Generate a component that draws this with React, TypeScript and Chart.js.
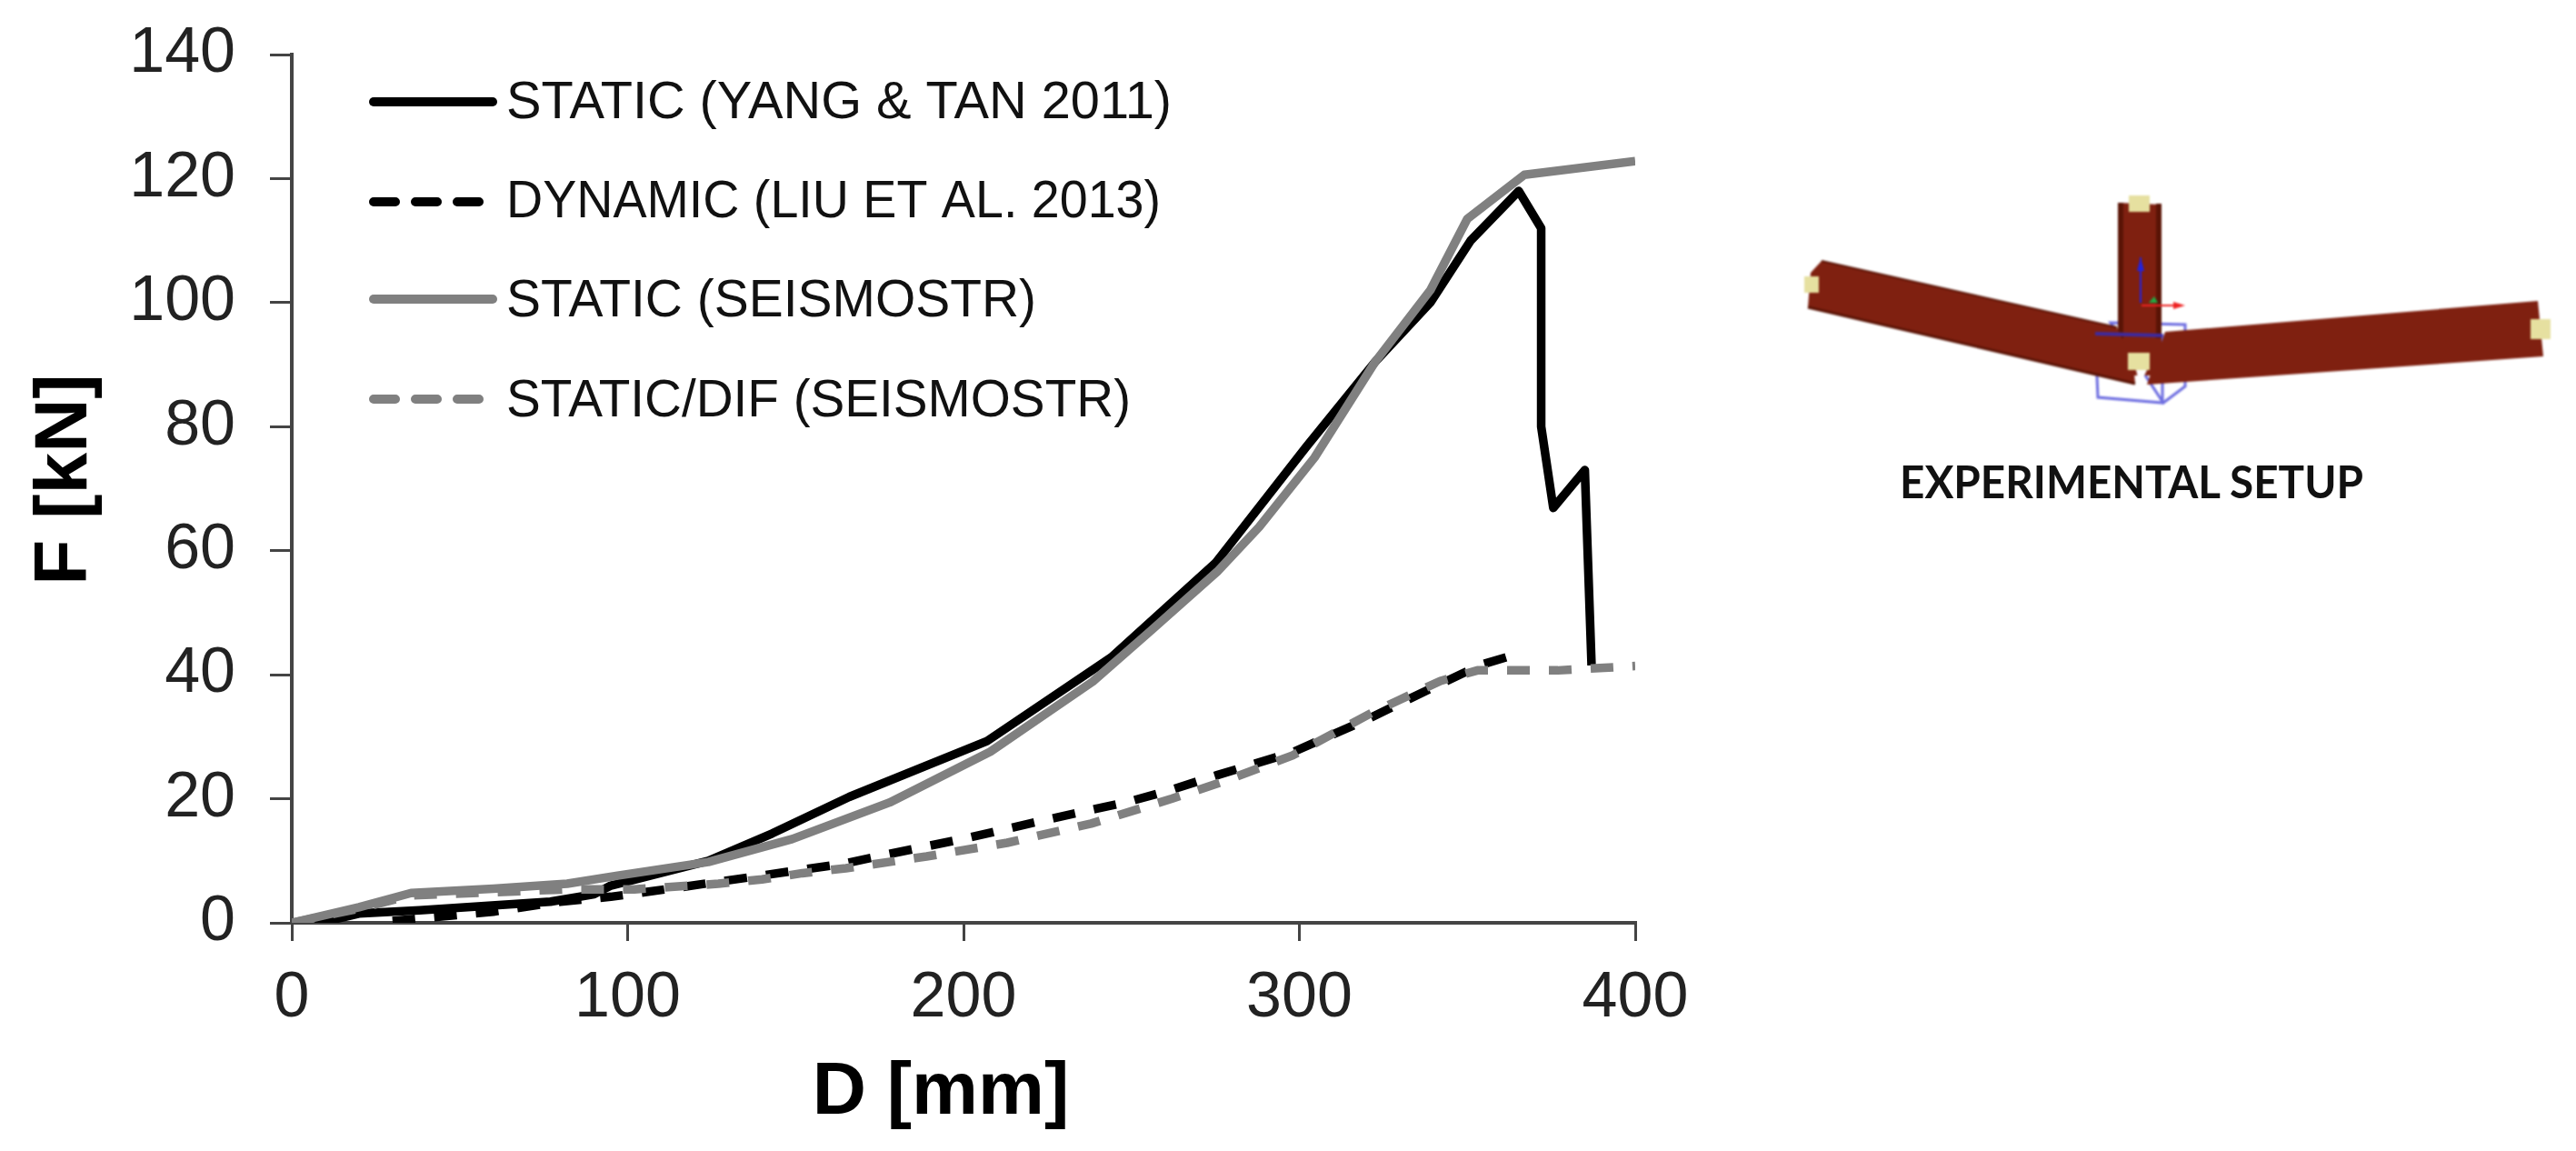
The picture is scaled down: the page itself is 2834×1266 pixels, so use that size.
import React, { useEffect, useRef } from "react";
import { Chart, registerables } from "chart.js";

Chart.register(...registerables);

const staticTestD = [0, 10, 20, 38, 77, 90, 95, 124, 143, 166, 207, 244, 275, 302, 322.5, 339, 351, 365.3, 372, 372, 375.6, 385, 387];
const staticTestF = [0, 0.2, 1.5, 2, 3.4, 4.6, 6, 10, 14.4, 20.3, 29.3, 42.8, 58, 76.7, 90.4, 100, 110, 118, 112, 80, 66.9, 73, 41.5];
const dynamicTestD = [30, 60, 80, 95, 102, 114, 164, 177, 200.5, 224.5, 249, 261, 275.5, 298, 321, 330, 342, 354, 364];
const dynamicTestF = [0.3, 1.8, 3.4, 4.2, 4.7, 5.6, 9.5, 11, 13.6, 16.6, 19.5, 21.3, 23.8, 27.5, 33, 35.4, 38.5, 41.6, 43.2];
const staticModelD = [0, 20, 35.5, 60, 82, 97, 124, 149, 178, 208, 238.5, 256, 275.5, 288, 304.5, 322.5, 339, 350, 367, 400];
const staticModelF = [0, 2.5, 4.8, 5.5, 6.3, 7.6, 9.8, 13.5, 19.4, 27.6, 38.9, 47.2, 56.6, 63.8, 75, 90.4, 102, 113.5, 120.6, 122.8];
const difModelD = [0, 20, 35.5, 82, 102, 127, 140, 152, 165, 189, 213, 238, 262, 277, 298, 321, 330, 342, 353, 377, 400];
const difModelF = [0, 2.3, 4.4, 5.4, 5.4, 6.3, 7, 8, 8.8, 10.7, 12.9, 16, 20, 22.7, 27, 33.7, 36, 39, 40.7, 40.7, 41.4];

const seriesLabels = ["STATIC (YANG & TAN 2011)", "DYNAMIC (LIU ET AL. 2013)", "STATIC (SEISMOSTR)", "STATIC/DIF (SEISMOSTR)"];
const xTitle = "D [mm]";
const yTitle = "F [kN]";
const caption = "EXPERIMENTAL SETUP";

const pairs = (xs: number[], ys: number[]) => xs.map((x, i) => ({ x, y: ys[i] }));

const BLACK = "#000000";
const GRAY = "#808080";
const DASH = [25, 21];

const legendPlugin = {
  id: "insideLegend",
  afterDraw(chart: any) {
    const { ctx } = chart;
    const rows = [112, 222, 329, 439];
    const textRows = [114, 223, 332, 442];
    const widths = [732, 720, 583, 687];
    chart.data.datasets.forEach((ds: any, i: number) => {
      ctx.save();
      ctx.strokeStyle = ds.borderColor;
      ctx.lineWidth = 10;
      ctx.lineCap = "round";
      if (ds.borderDash) ctx.setLineDash([24, 22]);
      ctx.beginPath();
      ctx.moveTo(411, rows[i]);
      ctx.lineTo(ds.borderDash ? 527 : 542, rows[i]);
      ctx.stroke();
      ctx.setLineDash([]);
      ctx.fillStyle = "#111111";
      ctx.font = '58px "Liberation Sans"';
      ctx.textBaseline = "middle";
      ctx.textAlign = "left";
      ctx.fillText(ds.label, 557, textRows[i], widths[i]);
      ctx.restore();
    });
  },
};

// The reference's axis titles sit a little off the axis centre.
const offsetTitle = (dx: number, dy: number) => (s: any) => {
  if (s.__wrapped) return;
  s.__wrapped = true;
  const orig = s.drawTitle;
  s.drawTitle = function () {
    const { left, right, top, bottom } = s;
    if (s.isHorizontal()) { s.left = left + dx; s.right = right + dx; } else { s.top = top + dy; s.bottom = bottom + dy; }
    orig.call(s);
    s.left = left; s.right = right; s.top = top; s.bottom = bottom;
  };
};

function Setup() {
  const beam = "#7f2010";
  const dark = "#5a1406";
  const cap = "#e6e0a0";
  const wire = "#6d6de0";
  return (
    <svg width={2834} height={1266} style={{ position: "absolute", left: 0, top: 0, pointerEvents: "none" }}>
      <g style={{ filter: "blur(0.8px)" }}>
        <g fill="none" stroke={wire} strokeWidth={3}>
          <polygon points="2305,367 2379,369 2379,443 2308,437" />
          <polygon points="2322,355 2404,357 2404,425 2380,443" />
        </g>
        <polygon points="2331,360 2378,372 2378,413 2331,413" fill={beam} />
        <polygon points="2330,223 2378,225 2378,372 2330,372" fill={beam} />
        <polygon points="2330,223 2336,223 2336,372 2330,372" fill={dark} />
        <polygon points="2372,224 2378,224 2378,372 2372,372" fill={dark} />
        <polygon points="2004,287 2329,360 2347,400 2349,422 1989,338 1992,300" fill={beam} />
        <polygon points="2382,365 2792,331 2798,392 2362,423" fill={beam} />
        <polyline points="2004,287 2329,360" fill="none" stroke={dark} strokeWidth={2} />
        <polyline points="1989,338 2349,422" fill="none" stroke={dark} strokeWidth={3} />
        <rect x={2342} y={215} width={23} height={18} fill={cap} />
        <rect x={2341} y={388} width={24} height={19} fill={cap} />
        <rect x={1985} y={304} width={16} height={18} fill={cap} />
        <rect x={2784} y={351} width={22} height={22} fill={cap} />
        <polygon points="2350,407 2362,407 2356,420 2360,424 2354,424" fill="#ffffff" />
        <line x1={2305} y1={367} x2={2379} y2={369} stroke="#3d2aa0" strokeWidth={4} />
        <line x1={2355} y1={283} x2={2355} y2={333} stroke="#2222dd" strokeWidth={2} />
        <polygon points="2355,283 2351,298 2359,298" fill="#2222dd" />
        <line x1={2356} y1={336} x2={2400} y2={336} stroke="#ee2222" strokeWidth={2} />
        <polygon points="2404,336 2391,332 2391,340" fill="#ee2222" />
        <polygon points="2370,326 2374,333 2364,333" fill="#22aa44" />
      </g>
      <text x={2345} y={548} textAnchor="middle" fontFamily="Lato" fontWeight={700} fontSize={49} fill="#111111" textLength={510} lengthAdjust="spacingAndGlyphs">
        {caption}
      </text>
    </svg>
  );
}

export default function App() {
  const ref = useRef<HTMLCanvasElement>(null);
  useEffect(() => {
    const chart = new Chart(ref.current!, {
      type: "line",
      data: {
        datasets: [
          { label: seriesLabels[0], data: pairs(staticTestD, staticTestF), borderColor: BLACK, order: 4 },
          { label: seriesLabels[1], data: pairs(dynamicTestD, dynamicTestF), borderColor: BLACK, borderDash: DASH, order: 3 },
          { label: seriesLabels[2], data: pairs(staticModelD, staticModelF), borderColor: GRAY, order: 2 },
          { label: seriesLabels[3], data: pairs(difModelD, difModelF), borderColor: GRAY, borderDash: DASH, order: 1 },
        ] as any,
      },
      options: {
        responsive: false,
        animation: false,
        parsing: false,
        layout: { padding: { left: 0, right: 1035, top: 60, bottom: 0 } },
        elements: {
          point: { radius: 0 },
          line: { borderWidth: 9.5, tension: 0, borderCapStyle: "butt", borderJoinStyle: "round" },
        },
        plugins: { legend: { display: false }, tooltip: { enabled: false } },
        scales: {
          x: {
            type: "linear",
            min: 0,
            max: 400,
            afterFit: (s: any) => { s.height = 251; s.paddingLeft = 0; s.paddingRight = 0; offsetTitle(-25, 0)(s); },
            border: { color: "#444444", width: 4 },
            grid: { drawOnChartArea: false, drawTicks: true, tickLength: 20, color: "#444444", lineWidth: 3 },
            ticks: { stepSize: 100, color: "#222222", padding: 22, maxRotation: 0, font: { family: "Liberation Sans", size: 70 } },
            title: { display: true, text: xTitle, color: "#000000", padding: { top: 0, bottom: 23 }, font: { family: "Liberation Sans", size: 82, weight: "bold", lineHeight: 1 } },
          },
          y: {
            type: "linear",
            min: 0,
            max: 140,
            afterFit: (s: any) => { s.width = 321; s.paddingTop = 0; s.paddingBottom = 0; offsetTitle(0, -10)(s); },
            border: { color: "#444444", width: 4 },
            grid: { drawOnChartArea: false, drawTicks: true, tickLength: 24, color: "#444444", lineWidth: 3 },
            ticks: { stepSize: 20, color: "#222222", padding: 38, font: { family: "Liberation Sans", size: 70 } },
            title: { display: true, text: yTitle, color: "#000000", padding: { top: 31, bottom: 0 }, font: { family: "Liberation Sans", size: 82, weight: "bold", lineHeight: 1 } },
          },
        },
      } as any,
      plugins: [legendPlugin],
    });
    return () => chart.destroy();
  }, []);
  return (
    <div style={{ position: "fixed", inset: 0, overflow: "hidden", background: "#ffffff" }}>
      <canvas ref={ref} width={2834} height={1266} style={{ position: "absolute", left: 0, top: 0 }} />
      <Setup />
    </div>
  );
}
